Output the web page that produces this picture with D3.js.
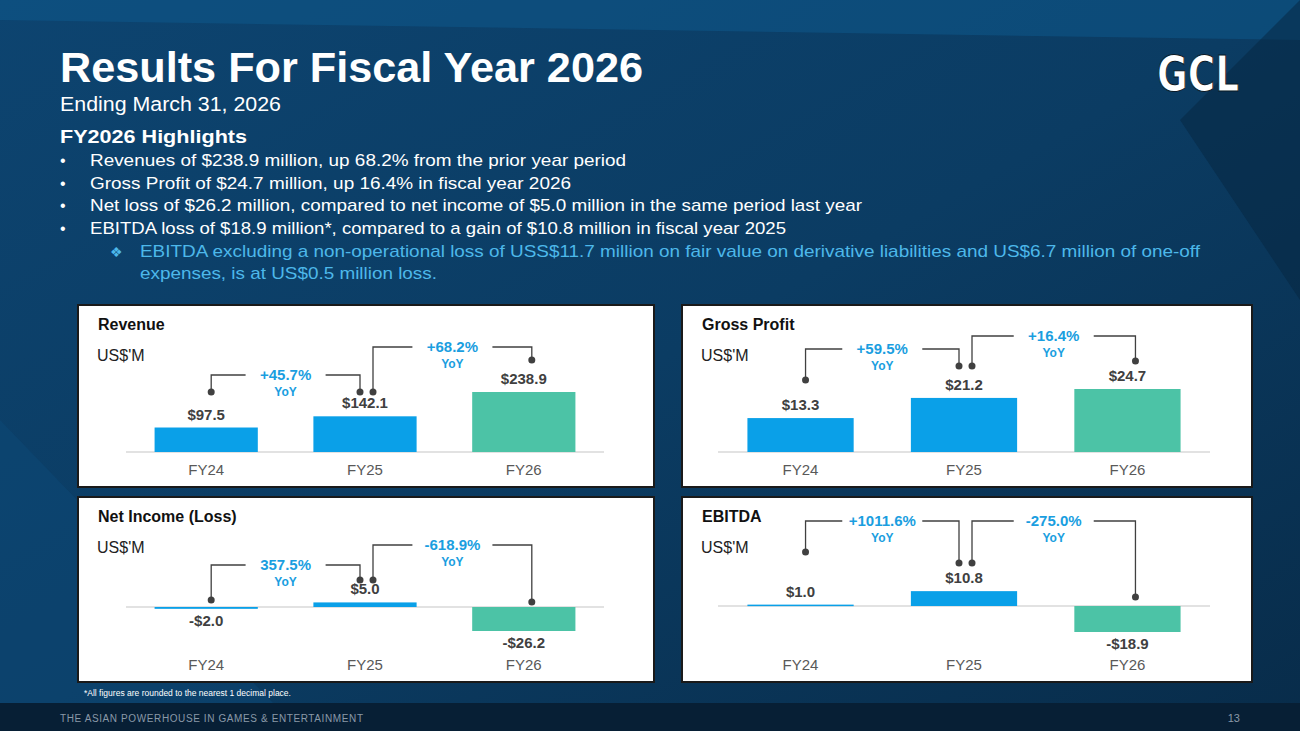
<!DOCTYPE html>
<html>
<head>
<style>
body { margin:0; background:#0a2f4f; }
svg text { font-family: Arial, "Liberation Sans", sans-serif; }
.val { font-weight:bold; fill:#404040; font-size:15px; }
.tick { fill:#595959; font-size:15px; }
.yoy { font-weight:bold; fill:#1a9ee0; }
</style>
</head>
<body>
<div id="chart"></div>
<script src="https://cdn.jsdelivr.net/npm/d3@7"></script>
<script>
var years = ["FY24", "FY25", "FY26"];
var revenue = [97.5, 142.1, 238.9];
var grossProfit = [13.3, 21.2, 24.7];
var netIncome = [-2.0, 5.0, -26.2];
var ebitda = [1.0, 10.8, -18.9];
var revenueYoY = ["+45.7%", "+68.2%"];
var grossYoY = ["+59.5%", "+16.4%"];
var netYoY = ["357.5%", "-618.9%"];
var ebitdaYoY = ["+1011.6%", "-275.0%"];
var barColors = ["#0aa0e8", "#0aa0e8", "#4cc3a6"];

var highlights = [
	"Revenues of $238.9 million, up 68.2% from the prior year period",
	"Gross Profit of $24.7 million, up 16.4% in fiscal year 2026",
	"Net loss of $26.2 million, compared to net income of $5.0 million in the same period last year",
	"EBITDA loss of $18.9 million*, compared to a gain of $10.8 million in fiscal year 2025"
];
var highlightEnds = [626, 571, 862, 786];
var subNote = ["EBITDA excluding a non-operational loss of USS$11.7 million on fair value on derivative liabilities and US$6.7 million of one-off",
	"expenses, is at US$0.5 million loss."];
var subEnds = [1200, 437];

var W = 1300, H = 731;
var svg = d3.select("#chart").append("svg").attr("width", W).attr("height", H);

// background
var defs = svg.append("defs");
var grad = defs.append("linearGradient").attr("id","bg").attr("x1","0").attr("y1","0").attr("x2","1").attr("y2","1");
grad.append("stop").attr("offset","0").attr("stop-color","#0d4470");
grad.append("stop").attr("offset","0.5").attr("stop-color","#0b3c63");
grad.append("stop").attr("offset","1").attr("stop-color","#082c4a");
svg.append("rect").attr("width",W).attr("height",H).attr("fill","url(#bg)");
svg.append("path").attr("d","M0,0L1300,0L1300,40L0,20Z").attr("fill","#0e5a8e").attr("opacity",0.5);
svg.append("path").attr("d","M1180,120L1300,0L1300,300Z").attr("fill","#06253f").attr("opacity",0.5);
svg.append("path").attr("d","M0,420L300,731L0,731Z").attr("fill","#0e4d7d").attr("opacity",0.35);
svg.append("rect").attr("y",703).attr("width",W).attr("height",28).attr("fill","#071f35");
svg.append("text").attr("x",60).attr("y",722).attr("fill","#8a99a8").attr("font-size",10).attr("textLength",303).text("THE ASIAN POWERHOUSE IN GAMES & ENTERTAINMENT");
svg.append("text").attr("x",1240).attr("y",722).attr("text-anchor","end").attr("fill","#8a99a8").attr("font-size",11).text("13");

// header
svg.append("text").attr("x",60).attr("y",82).attr("fill","#fff").attr("font-size",42).attr("font-weight","bold")
	.attr("textLength",583).attr("lengthAdjust","spacingAndGlyphs").text("Results For Fiscal Year 2026");
svg.append("text").attr("x",60).attr("y",111).attr("fill","#fff").attr("font-size",20)
	.attr("textLength",221).attr("lengthAdjust","spacingAndGlyphs").text("Ending March 31, 2026");
svg.append("text").attr("x",1157).attr("y",91).attr("fill","#fff").attr("font-size",50).attr("font-weight","bold")
	.style("font-family","'DejaVu Sans Condensed', sans-serif").attr("textLength",82).attr("lengthAdjust","spacingAndGlyphs")
	.attr("stroke","#081a2a").attr("stroke-width",1).text("GCL");
svg.append("text").attr("x",60).attr("y",143).attr("fill","#fff").attr("font-size",19).attr("font-weight","bold")
	.attr("textLength",187).attr("lengthAdjust","spacingAndGlyphs").text("FY2026 Highlights");
highlights.forEach(function(t,i){
	var y = 166 + i*22.7;
	svg.append("text").attr("x",60).attr("y",y).attr("fill","#fff").attr("font-size",16).text("•");
	svg.append("text").attr("x",90).attr("y",y).attr("fill","#fff").attr("font-size",17)
		.attr("textLength",highlightEnds[i]-90).attr("lengthAdjust","spacingAndGlyphs").text(t);
});
svg.append("text").attr("x",110).attr("y",257).attr("fill","#4db8ea").attr("font-size",14).text("❖");
subNote.forEach(function(t,i){
	svg.append("text").attr("x",140).attr("y",257+i*22).attr("fill","#4db8ea").attr("font-size",17)
		.attr("textLength",subEnds[i]-140).attr("lengthAdjust","spacingAndGlyphs").text(t);
});
svg.append("text").attr("x",84).attr("y",696).attr("fill","#fff").attr("font-size",8.5).text("*All figures are rounded to the nearest 1 decimal place.");

// panels
var panels = [
	{title:"Revenue", data:revenue, yoy:revenueYoY, x:78, y:305, w:576, h:182, base:147, maxPx:60, ax:[48,526],
		br:[{s:87,l:70,e:87},{s:87,l:42,e:55}]},
	{title:"Gross Profit", data:grossProfit, yoy:grossYoY, x:682, y:305, w:570, h:182, base:147, maxPx:63, ax:[36,528],
		br:[{s:75,l:44,e:61},{s:61,l:31,e:56}]},
	{title:"Net Income (Loss)", data:netIncome, yoy:netYoY, x:78, y:497, w:576, h:185, base:110, maxPx:24, ax:[48,526],
		br:[{s:103,l:68,e:83},{s:83,l:48,e:105}]},
	{title:"EBITDA", data:ebitda, yoy:ebitdaYoY, x:682, y:497, w:570, h:185, base:109, maxPx:26, ax:[36,528],
		br:[{s:55,l:24,e:66},{s:66,l:24,e:100}]}
];

function fmt(v){ return (v<0?"-$":"$") + Math.abs(v).toFixed(1); }

panels.forEach(function(p){
	var g = svg.append("g").attr("transform","translate("+p.x+","+p.y+")");
	g.append("rect").attr("width",p.w).attr("height",p.h).attr("fill","#fff").attr("stroke","#1a1a1a").attr("stroke-width",2);
	g.append("text").attr("x",20).attr("y",25).attr("font-size",16).attr("font-weight","bold").attr("fill","#111").text(p.title);
	g.append("text").attr("x",19).attr("y",56).attr("font-size",16).attr("fill","#222").text("US$'M");

	var x = d3.scaleBand().domain(years).range(p.ax).paddingInner(0.35).paddingOuter(0.18);
	var absMax = d3.max(p.data, function(d){ return Math.abs(d); });
	var y = d3.scaleLinear().domain([0, absMax]).range([0, p.maxPx]);
	var bw = x.bandwidth();

	g.append("line").attr("x1",p.ax[0]).attr("x2",p.ax[1]).attr("y1",p.base).attr("y2",p.base).attr("stroke","#d9d9d9").attr("stroke-width",1.5);
	g.selectAll(".bar").data(p.data).enter().append("rect")
		.attr("x",function(d,i){ return x(years[i]); })
		.attr("width",bw)
		.attr("y",function(d){ return d>=0 ? p.base - y(d) : p.base; })
		.attr("height",function(d){ return Math.max(1.5, y(Math.abs(d))); })
		.attr("fill",function(d,i){ return barColors[i]; });
	g.selectAll(".val").data(p.data).enter().append("text").attr("class","val")
		.attr("text-anchor","middle")
		.attr("x",function(d,i){ return x(years[i]) + bw/2; })
		.attr("y",function(d){ return d>=0 ? p.base - y(d) - 8 : p.base + y(-d) + 17; })
		.text(fmt);
	g.selectAll(".tick").data(years).enter().append("text").attr("class","tick")
		.attr("text-anchor","middle")
		.attr("x",function(d){ return x(d) + bw/2; })
		.attr("y",p.h - 12).text(String);

	// YoY brackets
	p.br.forEach(function(b,i){
		var cx0 = x(years[i]) + bw/2, cx1 = x(years[i+1]) + bw/2;
		var x0 = cx0 + (i==0 ? 5 : 8), x1 = cx1 + (i==0 ? -5 : 8);
		g.append("path").attr("d","M"+x0+","+b.s+"V"+b.l+"H"+x1+"V"+b.e)
			.attr("fill","none").attr("stroke","#404040").attr("stroke-width",1.3);
		g.append("circle").attr("cx",x0).attr("cy",b.s).attr("r",3.5).attr("fill","#404040");
		g.append("circle").attr("cx",x1).attr("cy",b.e).attr("r",3.5).attr("fill","#404040");
		var mx = (x0+x1)/2;
		g.append("rect").attr("x",mx-40).attr("y",b.l-10).attr("width",80).attr("height",20).attr("fill","#fff");
		g.append("text").attr("class","yoy").attr("x",mx).attr("y",b.l+5).attr("text-anchor","middle").attr("font-size",15).text(p.yoy[i]);
		g.append("text").attr("class","yoy").attr("x",mx).attr("y",b.l+21).attr("text-anchor","middle").attr("font-size",12).text("YoY");
	});
});
</script>
</body>
</html>
